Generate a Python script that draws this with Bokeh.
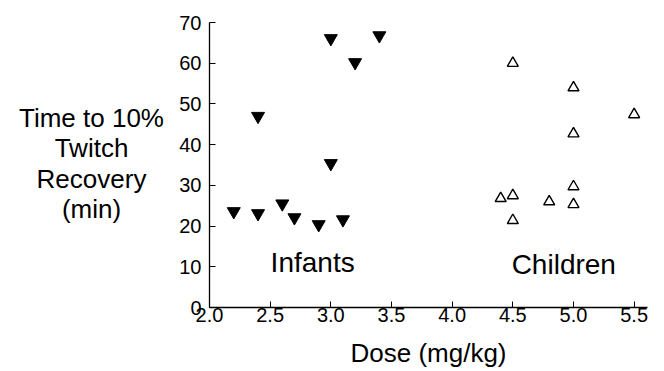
from bokeh.plotting import figure
from bokeh.layouts import row
from bokeh.models import Label, FixedTicker, Range1d
from bokeh.embed import file_html
from bokeh.resources import INLINE

# Data
infant_dose = [2.2, 2.4, 2.4, 2.6, 2.7, 2.9, 3.0, 3.0, 3.1, 3.2, 3.4]
infant_time = [23.6, 23.1, 47.0, 25.5, 22.1, 20.4, 66.1, 35.4, 21.6, 60.2, 66.8]

child_dose = [4.4, 4.5, 4.5, 4.5, 4.8, 5.0, 5.0, 5.0, 5.0, 5.5]
child_time = [26.8, 27.5, 21.4, 60.0, 26.0, 54.0, 42.7, 29.7, 25.3, 47.4]

x_ticks = [2.0, 2.5, 3.0, 3.5, 4.0, 4.5, 5.0, 5.5]
y_ticks = [0, 10, 20, 30, 40, 50, 60, 70]

group_labels = ["Infants", "Children"]
group_label_x = [2.85, 4.92]
group_label_y = [11.0, 10.6]

y_title_lines = ["Time to 10%", "Twitch", "Recovery", "(min)"]

FONT = "Liberation Sans"
H = 371
LW = 170          # width of the side panel holding the y title
FRAME_BOTTOM = 307  # page y of the plotting frame's bottom edge

# Side panel with the horizontal, centred y-axis title
side = figure(width=LW, height=H, output_backend="svg", toolbar_location=None,
              x_range=Range1d(0, 1), y_range=Range1d(0, 1),
              min_border=0, x_axis_type=None, y_axis_type=None)
side.outline_line_color = None
side.xgrid.visible = False
side.ygrid.visible = False
line_page_y = [117, 147, 178, 208]
for line, py in zip(y_title_lines, line_page_y):
    side.add_layout(Label(x=91, y=FRAME_BOTTOM - py, x_units="screen", y_units="screen",
                          text=line, text_align="center", text_baseline="middle",
                          text_font=FONT, text_font_size="26px", text_color="black"))

p = figure(width=656 - LW, height=H, output_backend="svg", toolbar_location=None,
           x_range=Range1d(2.0, 5.61), y_range=Range1d(0, 70),
           min_border_left=209 - LW, min_border_right=9, min_border_top=22,
           min_border_bottom=H - FRAME_BOTTOM)
p.outline_line_color = None
p.xgrid.visible = False
p.ygrid.visible = False
p.background_fill_color = "white"

p.scatter(infant_dose, infant_time, marker="inverted_triangle", size=13,
          fill_color="black", line_color="black")
p.scatter(child_dose, child_time, marker="triangle", size=11,
          fill_color=None, line_color="black", line_width=1.4)

for ax in (p.xaxis[0], p.yaxis[0]):
    ax.axis_line_color = "black"
    ax.axis_line_width = 1.3
    ax.major_tick_in = 6
    ax.major_tick_out = 0
    ax.minor_tick_line_color = None
    ax.major_tick_line_color = "black"
    ax.major_label_text_font = FONT
    ax.major_label_text_font_size = "20px"
    ax.major_label_text_color = "black"

p.xaxis.ticker = FixedTicker(ticks=x_ticks)
p.yaxis.ticker = FixedTicker(ticks=y_ticks)
p.xaxis.major_label_overrides = {t: f"{t:.1f}" for t in x_ticks}
p.xaxis.major_label_standoff = 0
p.yaxis.major_label_standoff = 8

p.xaxis.axis_label = "Dose (mg/kg)"
p.xaxis.axis_label_text_font = FONT
p.xaxis.axis_label_text_font_size = "26px"
p.xaxis.axis_label_text_font_style = "normal"
p.xaxis.axis_label_text_color = "black"
p.xaxis.axis_label_standoff = 13

for name, gx, gy in zip(group_labels, group_label_x, group_label_y):
    p.add_layout(Label(x=gx, y=gy, text=name, text_align="center",
                       text_baseline="middle", text_font=FONT,
                       text_font_size="28px", text_color="black"))

layout = row(side, p, spacing=0)
open("out.html", "w").write(file_html(layout, INLINE))
